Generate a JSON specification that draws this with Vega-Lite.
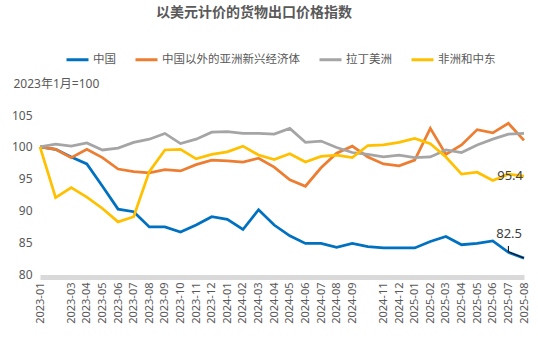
{
  "$schema": "https://vega.github.io/schema/vega-lite/v6.json",
  "width": 484,
  "height": 159,
  "autosize": {"type": "none"},
  "padding": {"left": 40, "top": 115, "right": 14, "bottom": 82},
  "background": "white",
  "config": {"view": {"stroke": null}, "font": "Noto Sans, Noto Sans CJK SC"},
  "title": {"text": "以美元计价的货物出口价格指数", "anchor": "middle", "dx": -28, "fontSize": 14, "fontWeight": "bold", "color": "#595959", "font": "Noto Sans CJK SC", "offset": 27},
  "datasets": {
    "series": [
      {"m": "2023-01", "s": "中国", "v": 100.0}, {"m": "2023-02", "s": "中国", "v": 99.6}, {"m": "2023-03", "s": "中国", "v": 98.4}, {"m": "2023-04", "s": "中国", "v": 97.3},
      {"m": "2023-05", "s": "中国", "v": 93.8}, {"m": "2023-06", "s": "中国", "v": 90.2}, {"m": "2023-07", "s": "中国", "v": 89.8}, {"m": "2023-08", "s": "中国", "v": 87.4},
      {"m": "2023-09", "s": "中国", "v": 87.4}, {"m": "2023-10", "s": "中国", "v": 86.6}, {"m": "2023-11", "s": "中国", "v": 87.7}, {"m": "2023-12", "s": "中国", "v": 89.0},
      {"m": "2024-01", "s": "中国", "v": 88.6}, {"m": "2024-02", "s": "中国", "v": 87.0}, {"m": "2024-03", "s": "中国", "v": 90.1}, {"m": "2024-04", "s": "中国", "v": 87.7},
      {"m": "2024-05", "s": "中国", "v": 86.0}, {"m": "2024-06", "s": "中国", "v": 84.8}, {"m": "2024-07", "s": "中国", "v": 84.8}, {"m": "2024-08", "s": "中国", "v": 84.2},
      {"m": "2024-09", "s": "中国", "v": 84.8}, {"m": "2024-10", "s": "中国", "v": 84.3}, {"m": "2024-11", "s": "中国", "v": 84.1}, {"m": "2024-12", "s": "中国", "v": 84.1},
      {"m": "2025-01", "s": "中国", "v": 84.1}, {"m": "2025-02", "s": "中国", "v": 85.1}, {"m": "2025-03", "s": "中国", "v": 85.9}, {"m": "2025-04", "s": "中国", "v": 84.6},
      {"m": "2025-05", "s": "中国", "v": 84.8}, {"m": "2025-06", "s": "中国", "v": 85.2}, {"m": "2025-07", "s": "中国", "v": 83.4}, {"m": "2025-08", "s": "中国", "v": 82.5},

      {"m": "2023-01", "s": "中国以外的亚洲新兴经济体", "v": 100.0}, {"m": "2023-02", "s": "中国以外的亚洲新兴经济体", "v": 99.6}, {"m": "2023-03", "s": "中国以外的亚洲新兴经济体", "v": 98.3}, {"m": "2023-04", "s": "中国以外的亚洲新兴经济体", "v": 99.6},
      {"m": "2023-05", "s": "中国以外的亚洲新兴经济体", "v": 98.3}, {"m": "2023-06", "s": "中国以外的亚洲新兴经济体", "v": 96.5}, {"m": "2023-07", "s": "中国以外的亚洲新兴经济体", "v": 96.1}, {"m": "2023-08", "s": "中国以外的亚洲新兴经济体", "v": 95.9},
      {"m": "2023-09", "s": "中国以外的亚洲新兴经济体", "v": 96.4}, {"m": "2023-10", "s": "中国以外的亚洲新兴经济体", "v": 96.2}, {"m": "2023-11", "s": "中国以外的亚洲新兴经济体", "v": 97.2}, {"m": "2023-12", "s": "中国以外的亚洲新兴经济体", "v": 97.9},
      {"m": "2024-01", "s": "中国以外的亚洲新兴经济体", "v": 97.8}, {"m": "2024-02", "s": "中国以外的亚洲新兴经济体", "v": 97.6}, {"m": "2024-03", "s": "中国以外的亚洲新兴经济体", "v": 98.2}, {"m": "2024-04", "s": "中国以外的亚洲新兴经济体", "v": 96.8},
      {"m": "2024-05", "s": "中国以外的亚洲新兴经济体", "v": 94.8}, {"m": "2024-06", "s": "中国以外的亚洲新兴经济体", "v": 93.8}, {"m": "2024-07", "s": "中国以外的亚洲新兴经济体", "v": 96.7}, {"m": "2024-08", "s": "中国以外的亚洲新兴经济体", "v": 99.0},
      {"m": "2024-09", "s": "中国以外的亚洲新兴经济体", "v": 100.1}, {"m": "2024-10", "s": "中国以外的亚洲新兴经济体", "v": 98.4}, {"m": "2024-11", "s": "中国以外的亚洲新兴经济体", "v": 97.3}, {"m": "2024-12", "s": "中国以外的亚洲新兴经济体", "v": 97.0},
      {"m": "2025-01", "s": "中国以外的亚洲新兴经济体", "v": 97.9}, {"m": "2025-02", "s": "中国以外的亚洲新兴经济体", "v": 102.9}, {"m": "2025-03", "s": "中国以外的亚洲新兴经济体", "v": 98.8}, {"m": "2025-04", "s": "中国以外的亚洲新兴经济体", "v": 100.3},
      {"m": "2025-05", "s": "中国以外的亚洲新兴经济体", "v": 102.7}, {"m": "2025-06", "s": "中国以外的亚洲新兴经济体", "v": 102.2}, {"m": "2025-07", "s": "中国以外的亚洲新兴经济体", "v": 103.7}, {"m": "2025-08", "s": "中国以外的亚洲新兴经济体", "v": 101.0},

      {"m": "2023-01", "s": "拉丁美洲", "v": 100.0}, {"m": "2023-02", "s": "拉丁美洲", "v": 100.4}, {"m": "2023-03", "s": "拉丁美洲", "v": 100.1}, {"m": "2023-04", "s": "拉丁美洲", "v": 100.6},
      {"m": "2023-05", "s": "拉丁美洲", "v": 99.5}, {"m": "2023-06", "s": "拉丁美洲", "v": 99.8}, {"m": "2023-07", "s": "拉丁美洲", "v": 100.7}, {"m": "2023-08", "s": "拉丁美洲", "v": 101.2},
      {"m": "2023-09", "s": "拉丁美洲", "v": 102.1}, {"m": "2023-10", "s": "拉丁美洲", "v": 100.5}, {"m": "2023-11", "s": "拉丁美洲", "v": 101.2}, {"m": "2023-12", "s": "拉丁美洲", "v": 102.3},
      {"m": "2024-01", "s": "拉丁美洲", "v": 102.4}, {"m": "2024-02", "s": "拉丁美洲", "v": 102.1}, {"m": "2024-03", "s": "拉丁美洲", "v": 102.1}, {"m": "2024-04", "s": "拉丁美洲", "v": 102.0},
      {"m": "2024-05", "s": "拉丁美洲", "v": 102.9}, {"m": "2024-06", "s": "拉丁美洲", "v": 100.7}, {"m": "2024-07", "s": "拉丁美洲", "v": 100.9}, {"m": "2024-08", "s": "拉丁美洲", "v": 99.9},
      {"m": "2024-09", "s": "拉丁美洲", "v": 99.1}, {"m": "2024-10", "s": "拉丁美洲", "v": 98.8}, {"m": "2024-11", "s": "拉丁美洲", "v": 98.4}, {"m": "2024-12", "s": "拉丁美洲", "v": 98.7},
      {"m": "2025-01", "s": "拉丁美洲", "v": 98.3}, {"m": "2025-02", "s": "拉丁美洲", "v": 98.4}, {"m": "2025-03", "s": "拉丁美洲", "v": 99.5}, {"m": "2025-04", "s": "拉丁美洲", "v": 99.1},
      {"m": "2025-05", "s": "拉丁美洲", "v": 100.3}, {"m": "2025-06", "s": "拉丁美洲", "v": 101.2}, {"m": "2025-07", "s": "拉丁美洲", "v": 102.0}, {"m": "2025-08", "s": "拉丁美洲", "v": 102.1},

      {"m": "2023-01", "s": "非洲和中东", "v": 100.0}, {"m": "2023-02", "s": "非洲和中东", "v": 92.0}, {"m": "2023-03", "s": "非洲和中东", "v": 93.6}, {"m": "2023-04", "s": "非洲和中东", "v": 92.1},
      {"m": "2023-05", "s": "非洲和中东", "v": 90.3}, {"m": "2023-06", "s": "非洲和中东", "v": 88.2}, {"m": "2023-07", "s": "非洲和中东", "v": 89.0}, {"m": "2023-08", "s": "非洲和中东", "v": 96.1},
      {"m": "2023-09", "s": "非洲和中东", "v": 99.5}, {"m": "2023-10", "s": "非洲和中东", "v": 99.6}, {"m": "2023-11", "s": "非洲和中东", "v": 98.1}, {"m": "2023-12", "s": "非洲和中东", "v": 98.8},
      {"m": "2024-01", "s": "非洲和中东", "v": 99.2}, {"m": "2024-02", "s": "非洲和中东", "v": 100.1}, {"m": "2024-03", "s": "非洲和中东", "v": 98.7}, {"m": "2024-04", "s": "非洲和中东", "v": 98.0},
      {"m": "2024-05", "s": "非洲和中东", "v": 98.9}, {"m": "2024-06", "s": "非洲和中东", "v": 97.6}, {"m": "2024-07", "s": "非洲和中东", "v": 98.5}, {"m": "2024-08", "s": "非洲和中东", "v": 98.7},
      {"m": "2024-09", "s": "非洲和中东", "v": 98.3}, {"m": "2024-10", "s": "非洲和中东", "v": 100.2}, {"m": "2024-11", "s": "非洲和中东", "v": 100.3}, {"m": "2024-12", "s": "非洲和中东", "v": 100.7},
      {"m": "2025-01", "s": "非洲和中东", "v": 101.3}, {"m": "2025-02", "s": "非洲和中东", "v": 100.5}, {"m": "2025-03", "s": "非洲和中东", "v": 98.4}, {"m": "2025-04", "s": "非洲和中东", "v": 95.7},
      {"m": "2025-05", "s": "非洲和中东", "v": 96.0}, {"m": "2025-06", "s": "非洲和中东", "v": 94.7}, {"m": "2025-07", "s": "非洲和中东", "v": 95.7}, {"m": "2025-08", "s": "非洲和中东", "v": 95.4}
    ],
    "leader": [
      {"m": "2025-07", "v": 84.4, "k": 1},
      {"m": "2025-07", "v": 83.5, "k": 2},
      {"m": "2025-08", "v": 82.5, "k": 3}
    ]
  },
  "layer": [
    {
      "data": {"name": "series"},
      "mark": {"type": "line", "strokeWidth": 2.75},
      "encoding": {
        "x": {
          "field": "m", "type": "ordinal",
          "scale": {"type": "point", "padding": 0},
          "axis": {
            "title": null, "labelAngle": -90, "labelAlign": "right", "labelBaseline": "middle",
            "labelFontSize": 11, "labelColor": "#595959", "ticks": false,
            "domainColor": "#d9d9d9", "domainWidth": 5, "offset": 3, "labelPadding": 5,
            "labelOverlap": false,
            "labelExpr": "datum.value == '2023-02' || datum.value == '2024-10' ? '' : datum.value"
          }
        },
        "y": {
          "field": "v", "type": "quantitative",
          "scale": {"domain": [80, 105], "nice": false, "zero": false},
          "axis": {
            "title": "2023年1月=100", "titleAngle": 0, "titleAlign": "left", "titleBaseline": "middle",
            "titleX": -27, "titleY": -32, "titleFontSize": 12, "titleFontWeight": "normal", "titleColor": "#595959",
            "values": [80, 85, 90, 95, 100, 105], "tickCount": 6, "grid": false, "domain": false, "ticks": false,
            "labelOverlap": false,
            "labelPadding": 8, "labelFontSize": 12, "labelColor": "#595959"
          }
        },
        "color": {
          "field": "s", "type": "nominal",
          "scale": {"domain": ["中国", "中国以外的亚洲新兴经济体", "拉丁美洲", "非洲和中东"], "range": ["#0070C0", "#ED7D31", "#A5A5A5", "#FFC000"]},
          "legend": {
            "orient": "none", "legendX": 25, "legendY": -68, "direction": "horizontal", "title": null,
            "symbolType": "stroke", "symbolSize": 484, "symbolStrokeWidth": 3,
            "labelFontSize": 11.5, "labelColor": "#595959", "labelOffset": 3, "columnPadding": 13
          }
        }
      }
    },
    {
      "data": {"name": "leader"},
      "mark": {"type": "line", "color": "#000000", "strokeWidth": 1},
      "encoding": {
        "x": {"field": "m", "type": "ordinal"},
        "y": {"field": "v", "type": "quantitative"},
        "order": {"field": "k"}
      }
    },
    {
      "data": {"name": "series"},
      "transform": [{"filter": "datum.m == '2025-08' && datum.s == '非洲和中东'"}],
      "mark": {"type": "text", "align": "right", "baseline": "middle", "dx": -1, "fontSize": 13, "color": "#404040"},
      "encoding": {
        "x": {"field": "m", "type": "ordinal"},
        "y": {"field": "v", "type": "quantitative"},
        "text": {"field": "v", "type": "quantitative", "format": ".1f"}
      }
    },
    {
      "data": {"name": "series"},
      "transform": [{"filter": "datum.m == '2025-08' && datum.s == '中国'"}],
      "mark": {"type": "text", "align": "right", "baseline": "middle", "dx": -2, "dy": -24, "fontSize": 13, "color": "#404040"},
      "encoding": {
        "x": {"field": "m", "type": "ordinal"},
        "y": {"field": "v", "type": "quantitative"},
        "text": {"field": "v", "type": "quantitative", "format": ".1f"}
      }
    }
  ]
}
